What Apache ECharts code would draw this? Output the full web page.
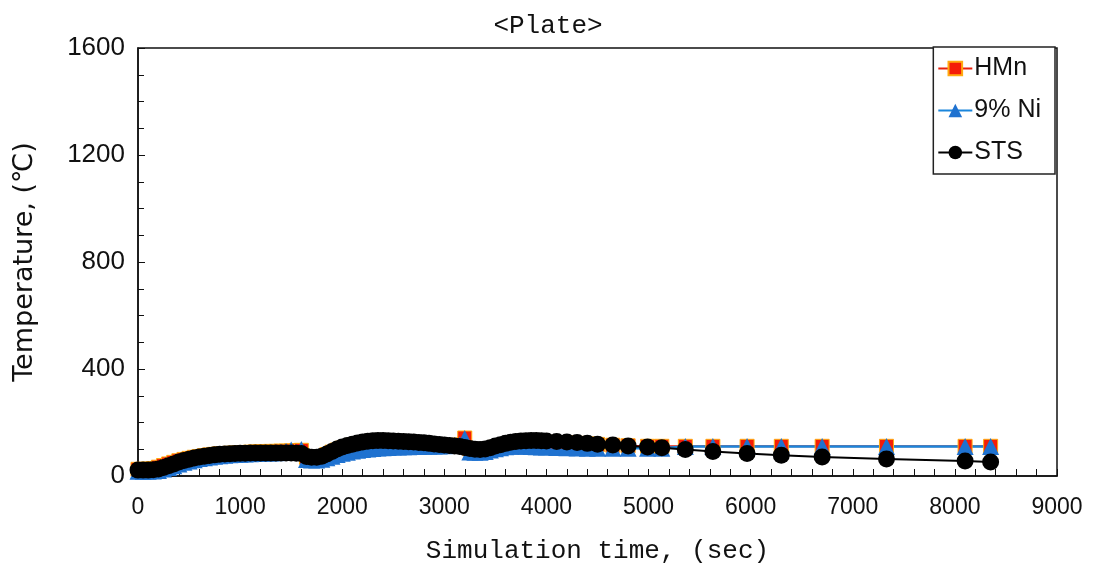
<!DOCTYPE html>
<html>
<head>
<meta charset="utf-8">
<script src="https://cdn.jsdelivr.net/npm/echarts@6/dist/echarts.min.js"></script>
<style>html,body{margin:0;padding:0;background:#fff;}#chart{width:1096px;height:571px;}</style>
</head>
<body>
<div id="chart"></div>
<script>
const chartTitle = '<Plate>';
const xName = 'Simulation time, (sec)';
const yName = 'Temperature, (\u2103)';
const seriesNames = ['HMn', '9% Ni', 'STS'];

const times = [
  0, 50, 100, 150, 200, 250, 300, 350, 400, 450,
  500, 550, 600, 650, 700, 750, 800, 850, 900, 950,
  1000, 1050, 1100, 1150, 1200, 1250, 1300, 1350, 1400, 1450,
  1500, 1550, 1600, 1650, 1700, 1750, 1800, 1850, 1900, 1950,
  2000, 2050, 2100, 2150, 2200, 2250, 2300, 2350, 2400, 2450,
  2500, 2550, 2600, 2650, 2700, 2750, 2800, 2850, 2900, 2950,
  3000, 3050, 3100, 3150, 3200, 3250, 3300, 3350, 3400, 3450,
  3500, 3550, 3600, 3650, 3700, 3750, 3800, 3850, 3900, 3950,
  4000, 4100, 4200, 4300, 4400, 4500, 4650, 4800, 4990, 5130,
  5360, 5630, 5965, 6300, 6700, 7330, 8100, 8350
];

const hmn = [
  25, 25, 26, 28, 33, 39, 45, 51, 57, 62,
  66, 70, 73, 76, 79, 81, 83, 84, 85, 86,
  87, 88, 89, 90, 91, 91, 92, 92, 93, 93,
  94, 95, 96, 70, 68, 68, 72, 80, 89, 97,
  104, 110, 115, 119, 122, 124, 125, 126, 126, 126,
  125, 124, 123, 122, 121, 120, 119, 118, 117, 116,
  115, 114, 113, 116, 142, 102, 97, 96, 98, 102,
  107, 112, 116, 120, 123, 125, 126, 127, 127, 127,
  126, 125, 124, 122, 120, 118, 115, 113, 111, 111,
  111, 111, 111, 111, 111, 111, 111, 111
];

const ni9 = [
  18, 18, 18, 19, 21, 26, 32, 38, 45, 51,
  56, 61, 65, 68, 71, 74, 76, 78, 79, 80,
  81, 82, 83, 84, 85, 86, 86, 87, 88, 92,
  97, 88, 99, 62, 60, 60, 63, 68, 74, 80,
  85, 89, 93, 96, 99, 101, 103, 105, 106, 107,
  108, 108, 109, 109, 110, 110, 111, 111, 112, 112,
  113, 114, 114, 116, 140, 90, 89, 89, 92, 97,
  102, 106, 109, 111, 112, 112, 111, 110, 109, 108,
  108, 107, 106, 105, 104, 104, 104, 104, 104, 104,
  110, 110, 110, 110, 110, 110, 110, 110
];

const sts = [
  22, 22, 22, 23, 26, 32, 38, 45, 52, 58,
  63, 67, 71, 74, 77, 79, 81, 82, 83, 84,
  85, 85, 86, 86, 86, 86, 86, 86, 86, 86,
  86, 85, 84, 73, 70, 70, 74, 82, 92, 101,
  108, 114, 119, 123, 127, 130, 132, 133, 133, 132,
  131, 130, 129, 128, 127, 125, 124, 122, 120, 118,
  116, 114, 112, 110, 107, 103, 100, 99, 101, 106,
  112, 117, 122, 126, 129, 131, 132, 133, 133, 132,
  131, 129, 127, 125, 122, 119, 116, 112, 108, 106,
  99, 92, 84, 78, 71, 64, 56, 52
];

const xMin = 0, xMax = 9000, xStep = 1000;
const yMin = 0, yMax = 1600, yStep = 400;

function pairs(vals) { return times.map((t, i) => [t, vals[i]]); }
const plain = v => String(v);

const chart = echarts.init(document.getElementById('chart'), null, { renderer: 'canvas' });
chart.setOption({
  animation: false,
  backgroundColor: '#ffffff',
  title: {
    text: chartTitle,
    left: 'center',
    top: 8,
    textStyle: { fontFamily: 'Liberation Mono', fontSize: 26, fontWeight: 'normal', color: '#111' }
  },
  grid: {
    left: 138, right: 39, top: 48, bottom: 95,
    show: true, borderColor: '#111', borderWidth: 1.5, backgroundColor: 'transparent'
  },
  legend: {
    data: seriesNames,
    orient: 'vertical',
    right: 41,
    top: 47,
    backgroundColor: '#fff',
    borderColor: '#222',
    borderWidth: 1.5,
    borderRadius: 0,
    padding: [9, 14, 9, 4],
    itemGap: 17,
    itemWidth: 34,
    itemHeight: 17,
    textStyle: { fontFamily: 'Liberation Sans Narrow, Liberation Sans, sans-serif', fontSize: 25, color: '#111', padding: [0, 0, 0, -3] }
  },
  xAxis: {
    type: 'value',
    min: xMin, max: xMax, interval: xStep,
    name: xName,
    nameLocation: 'middle',
    nameGap: 62,
    nameTextStyle: { fontFamily: 'Liberation Mono', fontSize: 26, color: '#111' },
    axisLine: { show: true, lineStyle: { color: '#111', width: 1.5 } },
    axisTick: { show: true, inside: true, length: 7, lineStyle: { color: '#111' } },
    minorTick: { show: true, splitNumber: 5, length: 7, lineStyle: { color: '#111' } },
    splitLine: { show: false },
    axisLabel: { margin: 20, formatter: plain, fontFamily: 'Liberation Sans Narrow, Liberation Sans, sans-serif', fontSize: 23, color: '#111' }
  },
  yAxis: {
    type: 'value',
    min: yMin, max: yMax, interval: yStep,
    name: yName,
    nameLocation: 'middle',
    nameGap: 100,
    nameTextStyle: { fontFamily: 'DejaVu Sans', fontSize: 27, color: '#111' },
    axisLine: { show: true, lineStyle: { color: '#111', width: 1.5 } },
    axisTick: { show: true, inside: true, length: 7, lineStyle: { color: '#111' } },
    minorTick: { show: true, splitNumber: 4, length: 6, lineStyle: { color: '#111' } },
    splitLine: { show: false },
    axisLabel: { margin: 13, formatter: plain, fontFamily: 'Liberation Sans, Arial, sans-serif', fontSize: 26, color: '#111' }
  },
  series: [
    {
      name: seriesNames[0], type: 'line', data: pairs(hmn),
      symbol: 'rect', symbolSize: 14,
      itemStyle: { color: '#f41c08', borderColor: '#ffaa10', borderWidth: 1 },
      lineStyle: { color: '#e8200c', width: 2 }
    },
    {
      name: seriesNames[1], type: 'line', data: pairs(ni9),
      symbol: 'triangle', symbolSize: 17,
      itemStyle: { color: '#1f72d0' },
      lineStyle: { color: '#1a86dc', width: 2.5 }
    },
    {
      name: seriesNames[2], type: 'line', data: pairs(sts),
      symbol: 'circle', symbolSize: 17,
      itemStyle: { color: '#000' },
      lineStyle: { color: '#000', width: 2 }
    }
  ]
});
</script>
</body>
</html>
